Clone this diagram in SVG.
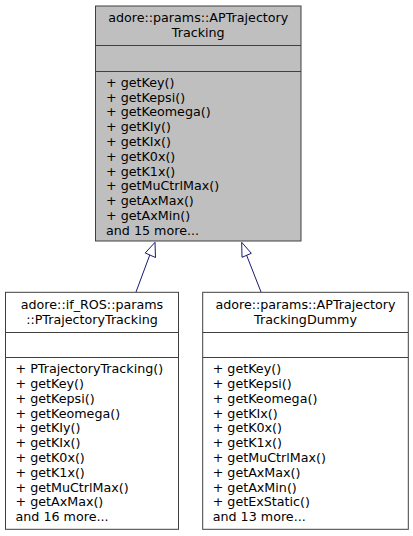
<svg xmlns="http://www.w3.org/2000/svg" width="413" height="536" viewBox="0 0 413 536">
<style>
text{font-family:"DejaVu Sans",sans-serif;font-size:12.7px;fill:#000}
.t{text-anchor:middle}
.box{stroke:#404040;stroke-width:1}
.edge{stroke:#191970;stroke-width:1;fill:none}
.head{stroke:#191970;stroke-width:1;fill:#fff}
</style>
<rect width="413" height="536" fill="#fff"/>
<g id="edges">
<path class="edge" d="M136,292 L150.5,253"/>
<polygon class="head" points="145.2,253 155,242.3 155.5,257.5"/>
<path class="edge" d="M261,292 L246.5,255"/>
<polygon class="head" points="242,257.3 241.7,242.3 251.3,253.3"/>
</g>
<g id="node_APTrajectoryTracking">
<rect class="box" x="95.5" y="6" width="205.5" height="235" fill="#bfbfbf"/>
<line class="box" x1="95.5" y1="45.5" x2="301" y2="45.5"/>
<line class="box" x1="95.5" y1="71.5" x2="301" y2="71.5"/>
<text class="t" x="198.25" y="22.4">adore::params::APTrajectory</text>
<text class="t" x="198.25" y="37.4">Tracking</text>
<text x="106" y="86.8">+ getKey()</text>
<text x="106" y="101.6">+ getKepsi()</text>
<text x="106" y="116.4">+ getKeomega()</text>
<text x="106" y="131.2">+ getKIy()</text>
<text x="106" y="146">+ getKIx()</text>
<text x="106" y="160.8">+ getK0x()</text>
<text x="106" y="175.6">+ getK1x()</text>
<text x="106" y="190.4">+ getMuCtrlMax()</text>
<text x="106" y="205.2">+ getAxMax()</text>
<text x="106" y="220">+ getAxMin()</text>
<text x="106" y="234.8">and 15 more...</text>
</g>
<g id="node_PTrajectoryTracking">
<rect class="box" x="5.5" y="292.3" width="173" height="237" fill="#fff"/>
<line class="box" x1="5.5" y1="332.5" x2="178.5" y2="332.5"/>
<line class="box" x1="5.5" y1="357.5" x2="178.5" y2="357.5"/>
<text class="t" x="92" y="309.3">adore::if_ROS::params</text>
<text class="t" x="92" y="324.1">::PTrajectoryTracking</text>
<text x="15.5" y="373.1">+ PTrajectoryTracking()</text>
<text x="15.5" y="387.9">+ getKey()</text>
<text x="15.5" y="402.7">+ getKepsi()</text>
<text x="15.5" y="417.5">+ getKeomega()</text>
<text x="15.5" y="432.3">+ getKIy()</text>
<text x="15.5" y="447.1">+ getKIx()</text>
<text x="15.5" y="461.9">+ getK0x()</text>
<text x="15.5" y="476.7">+ getK1x()</text>
<text x="15.5" y="491.5">+ getMuCtrlMax()</text>
<text x="15.5" y="506.3">+ getAxMax()</text>
<text x="15.5" y="521.1">and 16 more...</text>
</g>
<g id="node_APTrajectoryTrackingDummy">
<rect class="box" x="202.7" y="292.3" width="205.6" height="237" fill="#fff"/>
<line class="box" x1="202.7" y1="332.5" x2="408.3" y2="332.5"/>
<line class="box" x1="202.7" y1="357.5" x2="408.3" y2="357.5"/>
<text class="t" x="305.5" y="309.3">adore::params::APTrajectory</text>
<text class="t" x="305.5" y="324.1">TrackingDummy</text>
<text x="212.7" y="373.1">+ getKey()</text>
<text x="212.7" y="387.9">+ getKepsi()</text>
<text x="212.7" y="402.7">+ getKeomega()</text>
<text x="212.7" y="417.5">+ getKIx()</text>
<text x="212.7" y="432.3">+ getK0x()</text>
<text x="212.7" y="447.1">+ getK1x()</text>
<text x="212.7" y="461.9">+ getMuCtrlMax()</text>
<text x="212.7" y="476.7">+ getAxMax()</text>
<text x="212.7" y="491.5">+ getAxMin()</text>
<text x="212.7" y="506.3">+ getExStatic()</text>
<text x="212.7" y="521.1">and 13 more...</text>
</g>
</svg>
